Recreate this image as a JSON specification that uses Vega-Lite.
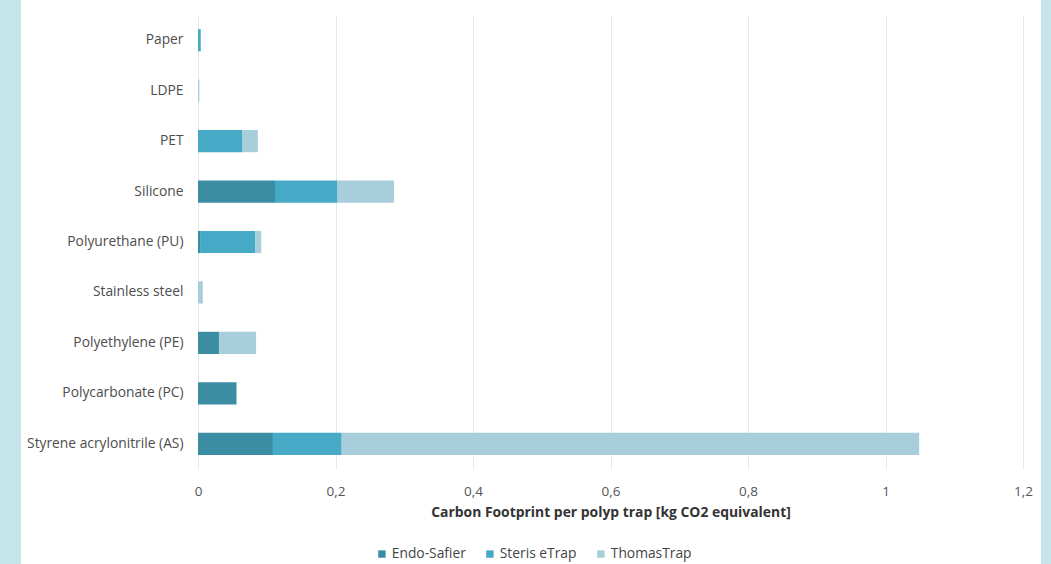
{
  "$schema": "https://vega.github.io/schema/vega-lite/v6.json",
  "background": "white",
  "padding": 0,
  "spacing": 0,
  "config": {"view": {"stroke": null}, "font": "Open Sans", "concat": {"spacing": 0}},
  "datasets": {
    "d": [
      {"material": "Paper", "trap": "Steris eTrap", "o": 2, "value": 0.004},
      {"material": "LDPE", "trap": "ThomasTrap", "o": 3, "value": 0.002},
      {"material": "PET", "trap": "Steris eTrap", "o": 2, "value": 0.064},
      {"material": "PET", "trap": "ThomasTrap", "o": 3, "value": 0.023},
      {"material": "Silicone", "trap": "Endo-Safier", "o": 1, "value": 0.112},
      {"material": "Silicone", "trap": "Steris eTrap", "o": 2, "value": 0.091},
      {"material": "Silicone", "trap": "ThomasTrap", "o": 3, "value": 0.082},
      {"material": "Polyurethane (PU)", "trap": "Endo-Safier", "o": 1, "value": 0.003},
      {"material": "Polyurethane (PU)", "trap": "Steris eTrap", "o": 2, "value": 0.08},
      {"material": "Polyurethane (PU)", "trap": "ThomasTrap", "o": 3, "value": 0.009},
      {"material": "Stainless steel", "trap": "ThomasTrap", "o": 3, "value": 0.007},
      {"material": "Polyethylene (PE)", "trap": "Endo-Safier", "o": 1, "value": 0.0305},
      {"material": "Polyethylene (PE)", "trap": "ThomasTrap", "o": 3, "value": 0.054},
      {"material": "Polycarbonate (PC)", "trap": "Endo-Safier", "o": 1, "value": 0.056},
      {"material": "Styrene acrylonitrile (AS)", "trap": "Endo-Safier", "o": 1, "value": 0.109},
      {"material": "Styrene acrylonitrile (AS)", "trap": "Steris eTrap", "o": 2, "value": 0.1},
      {"material": "Styrene acrylonitrile (AS)", "trap": "ThomasTrap", "o": 3, "value": 0.84}
    ],
    "blank": [{"k": 1}]
  },
  "hconcat": [
    {
      "width": 21, "height": 564,
      "data": {"name": "blank"},
      "mark": {"type": "rect", "opacity": 0},
      "view": {"fill": "#c6e5ea", "stroke": null}
    },
    {
      "spacing": 0,
      "vconcat": [
        {
          "width": 10, "height": 15,
          "data": {"name": "blank"},
          "mark": {"type": "rect", "opacity": 0}
        },
        {
          "width": 825, "height": 454,
          "data": {"name": "d"},
          "mark": {"type": "bar"},
          "encoding": {
            "y": {
              "field": "material", "type": "nominal",
              "sort": ["Paper", "LDPE", "PET", "Silicone", "Polyurethane (PU)", "Stainless steel", "Polyethylene (PE)", "Polycarbonate (PC)", "Styrene acrylonitrile (AS)"],
              "scale": {"paddingInner": 0.56, "paddingOuter": 0.28},
              "axis": {"title": null, "domain": false, "ticks": false, "grid": false, "labelPadding": 15, "labelFontSize": 13.8, "labelColor": "#4d4d4d", "minExtent": 177, "maxExtent": 177}
            },
            "x": {
              "field": "value", "type": "quantitative", "stack": "zero",
              "scale": {"domain": [0, 1.2]},
              "axis": {
                "values": [0, 0.2, 0.4, 0.6, 0.8, 1, 1.2],
                "labelExpr": "replace(format(datum.value, '.1~f'), '.', ',')",
                "labelFlush": false,
                "domain": false, "ticks": false, "gridColor": "#dcedf0", "gridWidth": 1,
                "labelPadding": 15, "labelFontSize": 13.5, "labelColor": "#555555",
                "title": "Carbon Footprint per polyp trap [kg CO2 equivalent]",
                "titleFontSize": 13.9, "titleFontWeight": "bold", "titleColor": "#333333", "titlePadding": 8
              }
            },
            "color": {
              "field": "trap", "type": "nominal",
              "scale": {"domain": ["Endo-Safier", "Steris eTrap", "ThomasTrap"], "range": ["#3b8da4", "#46a9c6", "#a8cddb"]},
              "legend": {"orient": "none", "legendX": 375, "legendY": 547, "direction": "horizontal", "title": null, "symbolType": "square", "symbolSize": 55, "labelFontSize": 13.8, "labelColor": "#444444", "labelOffset": 3, "columnPadding": 17, "symbolOffset": 0}
            },
            "order": {"field": "o", "type": "quantitative"}
          }
        }
      ]
    },
    {
      "width": 8, "height": 564,
      "data": {"name": "blank"},
      "mark": {"type": "rect", "opacity": 0}
    },
    {
      "width": 20, "height": 564,
      "data": {"name": "blank"},
      "mark": {"type": "rect", "opacity": 0},
      "view": {"fill": "#c6e5ea", "stroke": null}
    }
  ]
}
